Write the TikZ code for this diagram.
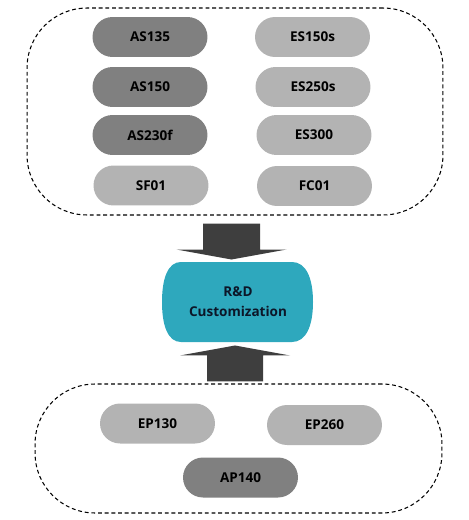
\documentclass[tikz,border=0pt]{standalone}
\usepackage{fontspec}
\setmainfont{Open Sans}
\usepackage{tikz}
\usetikzlibrary{positioning,calc}
\definecolor{pilldark}{RGB}{128,128,128}
\definecolor{pilllight}{RGB}{179,179,179}
\definecolor{rndteal}{RGB}{46,168,189}
\definecolor{arrowdark}{RGB}{62,62,62}
\definecolor{rndtext}{RGB}{12,22,40}

\begin{document}
\begin{tikzpicture}[x=0.02cm,y=-0.02cm,
  pill/.style={rounded corners=0.4cm,minimum width=2.3cm,minimum height=0.8cm,
    inner sep=0pt,font=\fontsize{7.7}{9}\selectfont\bfseries},
  darkpill/.style={pill,fill=pilldark},
  lightpill/.style={pill,fill=pilllight},
  group/.style={draw,dashed,dash pattern=on 2.2pt off 1.6pt,line width=0.6pt,rounded corners=1.2cm},
  blockarrow/.style={fill=arrowdark}]
  \useasboundingbox (0,0) rectangle (468,520);
  % product groups
  \node[group,minimum width=8.32cm,minimum height=4.14cm] (grpA) at (235,111.5) {};
  \node[group,minimum width=8.14cm,minimum height=2.58cm] (grpB) at (238.5,448.5) {};
  \node[darkpill] (as135) at (150,37) {AS135};
  \node[darkpill] (as150) at (150,87) {AS150};
  \node[darkpill] (as230f) at (150,135) {AS230f};
  \node[lightpill] (sf01) at (151,185.5) {SF01};
  \node[lightpill] (es150s) at (312.5,37) {ES150s};
  \node[lightpill] (es250s) at (313,87) {ES250s};
  \node[lightpill] (es300) at (314,135) {ES300};
  \node[lightpill] (fc01) at (314.5,186) {FC01};
  \node[lightpill] (ep130) at (157.5,423.5) {EP130};
  \node[lightpill] (ep260) at (324.5,425) {EP260};
  \node[darkpill] (ap140) at (240.5,477.5) {AP140};
  % R&D in the middle
  \coordinate (rnd) at (238,302);
  \fill[rndteal] ($(rnd)+(-57,-40)$) -- ($(rnd)+(54,-40)$)
    .. controls ($(rnd)+(68,-40)$) and ($(rnd)+(75,-24)$) .. ($(rnd)+(75,0)$)
    .. controls ($(rnd)+(75,24)$) and ($(rnd)+(68,40)$) .. ($(rnd)+(54,40)$)
    -- ($(rnd)+(-57,40)$)
    .. controls ($(rnd)+(-70,40)$) and ($(rnd)+(-76,24)$) .. ($(rnd)+(-76,0)$)
    .. controls ($(rnd)+(-76,-24)$) and ($(rnd)+(-70,-40)$) .. cycle;
  \node[align=center,text=rndtext,font=\fontsize{7.7}{11.5}\selectfont\bfseries] (rndtxt) at (rnd) {R\&D\\Customization};
  % arrows into the middle
  \fill[blockarrow] ($(grpA.south)+(-32,8)$) -- ++(57,0) -- ++(0,26) -- ++(26.5,0)
    -- ++(-55,10) -- ++(-55,-10) -- ++(26.5,0) -- cycle;
  \fill[blockarrow] ($(grpB.north)+(-31.5,-2)$) -- ++(56,0) -- ++(0,-26) -- ++(27,0)
    -- ++(-55,-10) -- ++(-55,10) -- ++(27,0) -- cycle;
\end{tikzpicture}
\end{document}
